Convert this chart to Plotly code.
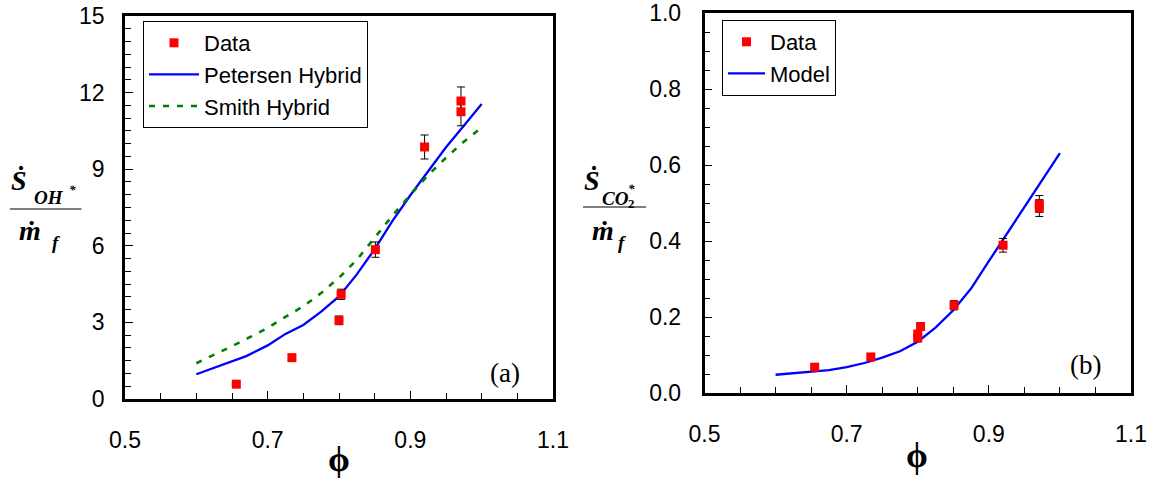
import plotly.graph_objects as go

# ---------------- data ----------------
# (a) OH*
phi_data_a = [0.656, 0.734, 0.800, 0.803, 0.851, 0.920, 0.971, 0.971]
oh_data = [0.58, 1.62, 3.08, 4.10, 5.85, 9.87, 11.25, 11.67]
oh_err = [0.08, 0.10, 0.17, 0.20, 0.30, 0.47, 0.55, 0.55]

phi_model = [0.60, 0.625, 0.65, 0.67, 0.70, 0.725, 0.75, 0.775, 0.80,
             0.825, 0.85, 0.875, 0.90, 0.925, 0.95, 0.975, 1.00]
petersen = [0.97, 1.23, 1.48, 1.68, 2.10, 2.55, 2.90, 3.42, 4.02,
            4.88, 5.87, 6.98, 7.98, 8.93, 9.86, 10.70, 11.55]

phi_smith = [0.60, 0.625, 0.65, 0.675, 0.70, 0.725, 0.75, 0.775, 0.80,
             0.825, 0.85, 0.875, 0.90, 0.925, 0.95, 0.975, 0.995]
smith = [1.40, 1.72, 2.07, 2.42, 2.78, 3.22, 3.63, 4.15, 4.75,
         5.45, 6.33, 7.18, 8.00, 8.77, 9.45, 10.08, 10.52]

# (b) CO2*
phi_data_b = [0.655, 0.734, 0.800, 0.800, 0.804, 0.851, 0.920, 0.971, 0.971]
co2_data = [0.068, 0.095, 0.145, 0.155, 0.175, 0.231, 0.389, 0.487, 0.498]
co2_err = [0.005, 0.006, 0.010, 0.010, 0.010, 0.012, 0.018, 0.022, 0.022]

phi_model_b = [0.60, 0.625, 0.65, 0.675, 0.70, 0.725, 0.75, 0.775, 0.80,
               0.825, 0.85, 0.875, 0.90, 0.925, 0.95, 0.975, 1.00]
co2_model = [0.048, 0.052, 0.056, 0.060, 0.068, 0.079, 0.093, 0.110, 0.135,
             0.172, 0.218, 0.275, 0.347, 0.418, 0.487, 0.560, 0.632]

x_ticks = [0.5, 0.7, 0.9, 1.1]
x_ticktext = ["0.5", "0.7", "0.9", "1.1"]

# The page body margin is removed by a small post script, so the figure fills the window.
W, H = 1155, 478


def px(x):
    """page x (pixels) -> paper fraction"""
    return x / W


def py(y):
    """page y (pixels) -> paper fraction"""
    return 1 - y / H


SANS = "Liberation Sans, Arial, sans-serif"
SERIF = "Liberation Serif, Times New Roman, serif"
RED = "#ff0000"
BLUE = "#0000ff"
GREEN = "#008000"

fig = go.Figure()

# ----- panel (a) -----
fig.add_trace(go.Scatter(x=phi_model, y=petersen, mode="lines", name="Petersen Hybrid",
                         line=dict(color=BLUE, width=2.3), xaxis="x", yaxis="y",
                         legend="legend", legendrank=2))
fig.add_trace(go.Scatter(x=phi_smith, y=smith, mode="lines", name="Smith Hybrid",
                         line=dict(color=GREEN, width=2.6, dash="6px,8px"), xaxis="x", yaxis="y",
                         legend="legend", legendrank=3))
fig.add_trace(go.Scatter(x=phi_data_a, y=oh_data, mode="markers", name="Data",
                         marker=dict(symbol="square", color=RED, size=9),
                         error_y=dict(type="data", array=oh_err, color="black", thickness=1, width=4),
                         xaxis="x", yaxis="y", legend="legend", legendrank=1))

# ----- panel (b) -----
fig.add_trace(go.Scatter(x=phi_model_b, y=co2_model, mode="lines", name="Model",
                         line=dict(color=BLUE, width=2.3), xaxis="x2", yaxis="y2",
                         legend="legend2", legendrank=2))
fig.add_trace(go.Scatter(x=phi_data_b, y=co2_data, mode="markers", name="Data",
                         marker=dict(symbol="square", color=RED, size=9),
                         error_y=dict(type="data", array=co2_err, color="black", thickness=1, width=4),
                         xaxis="x2", yaxis="y2", legend="legend2", legendrank=1))

axis_common = dict(
    showline=True, linecolor="black", linewidth=2.5, mirror=True,
    showgrid=False, zeroline=False, automargin=False, ticklabeloverflow="allow",
    ticks="inside", ticklen=8, tickwidth=1.3, tickcolor="black",
    tickfont=dict(family=SANS, size=23, color="black"),
)
minor_common = dict(ticks="inside", ticklen=6, tickwidth=1.3, tickcolor="black")

legend_common = dict(xanchor="left", yanchor="top", bgcolor="white", bordercolor="black",
                     borderwidth=1, font=dict(family=SANS, size=22, color="black"),
                     tracegroupgap=0)

fig.update_layout(
    width=W, height=H, autosize=False,
    margin=dict(l=0, r=0, t=0, b=0, pad=0),
    paper_bgcolor="white", plot_bgcolor="white",
    xaxis=dict(domain=[px(125), px(553)], range=[0.5, 1.1], tickvals=x_ticks,
               ticktext=x_ticktext, anchor="y",
               minor=dict(dtick=0.05, tick0=0.5, **minor_common),
               ticklabelstandoff=19, **axis_common),
    yaxis=dict(domain=[py(399), py(16)], range=[0, 15], tick0=0, dtick=3, anchor="x",
               minor=dict(dtick=0.5, tick0=0, **minor_common),
               ticklabelstandoff=13, **axis_common),
    xaxis2=dict(domain=[px(704.5), px(1131)], range=[0.5, 1.1], tickvals=x_ticks,
                ticktext=x_ticktext, anchor="y2",
                minor=dict(dtick=0.05, tick0=0.5, **minor_common),
                ticklabelstandoff=19, **axis_common),
    yaxis2=dict(domain=[py(393), py(13.3)], range=[0, 1.0], tick0=0, dtick=0.2, tickformat=".1f",
                anchor="x2",
                minor=dict(dtick=0.05, tick0=0, **minor_common),
                ticklabelstandoff=16, **axis_common),
    legend=dict(x=px(143), y=py(21), itemwidth=50, **legend_common),
    legend2=dict(x=px(722), y=py(20), itemwidth=37, **legend_common),
    showlegend=True,
)

ann = []


def add_text(text, x, y, size, family=SERIF, xanchor="center", yanchor="middle"):
    ann.append(dict(text=text, x=px(x), y=py(y), xref="paper", yref="paper",
                    showarrow=False, xanchor=xanchor, yanchor=yanchor,
                    font=dict(family=family, size=size, color="black")))


# phi axis titles
add_text("<b>ϕ</b>", 339, 459, 35)
add_text("<b>ϕ</b>", 917, 455, 35)
# panel labels
add_text("(a)", 505, 373, 27)
add_text("(b)", 1085, 365, 27)

# y title (a): S_dot_OH* / m_dot_f
add_text("<b><i>Ṡ</i></b>", 19, 180, 28)
add_text("<b><i>OH</i></b>", 49, 197, 19)
add_text("<b><i>*</i></b>", 72, 189, 13)
add_text("<b><i>ṁ</i></b>", 30, 230, 28)
add_text("<b><i>f</i></b>", 56, 242, 19)

# y title (b): S_dot_CO2* / m_dot_f
add_text("<b><i>Ṡ</i></b>", 592, 180, 28)
add_text("<b><i>CO</i></b>", 615, 198, 19)
add_text("<b>2</b>", 631, 203, 13)
add_text("<b><i>*</i></b>", 631, 188, 13)
add_text("<b><i>ṁ</i></b>", 603, 230, 28)
add_text("<b><i>f</i></b>", 622, 242, 19)

fig.update_layout(annotations=ann)

# fraction bars
fig.add_shape(type="line", xref="paper", yref="paper", x0=px(10), x1=px(81.5), y0=py(209), y1=py(209),
              line=dict(color="#555555", width=1.5))
fig.add_shape(type="line", xref="paper", yref="paper", x0=px(583), x1=px(646), y0=py(207), y1=py(207),
              line=dict(color="#555555", width=1.5))

fig.write_html(
    "out.html",
    config={"displayModeBar": False},
    post_script="document.body.style.margin='0';document.body.style.overflow='hidden';",
)
